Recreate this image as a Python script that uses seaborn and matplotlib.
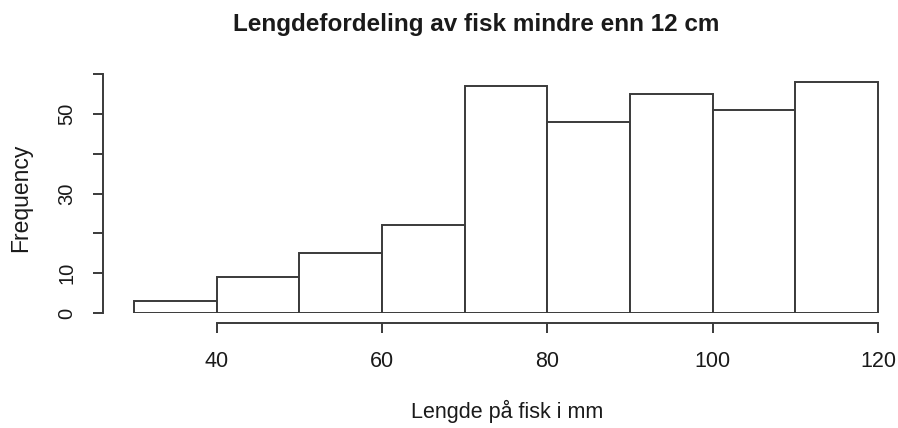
import numpy as np
import matplotlib
matplotlib.use("Agg")
import matplotlib.pyplot as plt
import seaborn as sns

# Histogram data
bin_edges = [30, 40, 50, 60, 70, 80, 90, 100, 110, 120]
counts = [3, 9, 15, 22, 57, 48, 55, 51, 58]
bin_mid = [(a + b) / 2 for a, b in zip(bin_edges[:-1], bin_edges[1:])]

x_ticks = [40, 60, 80, 100, 120]
y_ticks = [0, 10, 20, 30, 40, 50, 60]
y_tick_labels = ["0", "10", "", "30", "", "50", ""]

title = "Lengdefordeling av fisk mindre enn 12 cm"
x_label = "Lengde på fisk i mm"
y_label = "Frequency"

sns.set_style("white")
plt.rcParams["font.family"] = ["Liberation Sans", "DejaVu Sans"]

line_col = "#3a3a3a"
text_col = "#1a1a1a"

fig = plt.figure(figsize=(8.98, 4.28), dpi=100)
W, H = 898, 428
# axes: left spine at x=103px, y range 0..60 between 313px and 74px
ax = fig.add_axes([103 / W, (H - 313) / H, (W - 103) / W, (313 - 74.3) / H])

sns.histplot(
    x=bin_mid,
    weights=counts,
    bins=bin_edges,
    stat="count",
    fill=True,
    color="white",
    edgecolor=line_col,
    linewidth=1.4,
    alpha=1,
    ax=ax,
)

px_per_unit = (878 - 216) / 80
ax.set_xlim(30 - (134 - 103) / px_per_unit, 120 + (W - 878) / px_per_unit)
ax.set_ylim(0, 60)

ax.set_xticks(x_ticks)
ax.set_xticklabels([str(t) for t in x_ticks])
ax.set_yticks(y_ticks)
ax.set_yticklabels(y_tick_labels)
ax.set_xlabel("")
ax.set_ylabel("")

for s in ["top", "right"]:
    ax.spines[s].set_visible(False)
ax.spines["bottom"].set_position(("outward", 7.2))
ax.spines["bottom"].set_bounds(40, 120)
ax.spines["left"].set_bounds(0, 60)
for s in ["bottom", "left"]:
    ax.spines[s].set_color(line_col)
    ax.spines[s].set_linewidth(1.4)

ax.tick_params(axis="both", direction="out", length=7.2, width=1.4,
               color=line_col, labelcolor=text_col, bottom=True, left=True)
ax.tick_params(axis="x", pad=13, labelsize=15.5)
ax.tick_params(axis="y", pad=12, labelsize=14.5)
plt.setp(ax.get_yticklabels(), rotation=90, va="center")

fig.text(476 / W, 1 - 25 / H, title, ha="center", va="center",
         fontsize=17.5, fontweight="bold", color=text_col)
fig.text(507 / W, 1 - 411 / H, x_label, ha="center", va="center",
         fontsize=15.5, color=text_col)
fig.text(21 / W, 1 - 198 / H, y_label, ha="center", va="center",
         rotation=90, fontsize=16.5, color=text_col)

fig.savefig("out.png", dpi=100, facecolor="white")
